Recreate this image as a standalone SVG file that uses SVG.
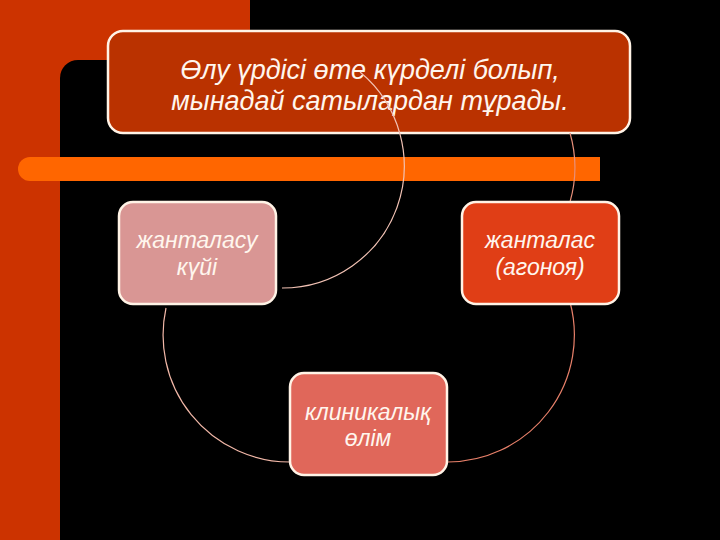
<svg xmlns="http://www.w3.org/2000/svg" width="720" height="540" viewBox="0 0 720 540">
<style>
.box{stroke:#FFF3E6;stroke-width:2.5}
.t{font-family:"Liberation Sans",Arial,sans-serif;font-style:italic;fill:#FFF6EE;text-anchor:middle}
.arc{fill:none;stroke-width:1.2}
</style>
<g id="background">
<rect x="0" y="0" width="720" height="540" fill="#CC3300"/>
<rect x="250" y="0" width="470" height="62" fill="#000000"/>
<rect x="60" y="60" width="700" height="520" rx="18" fill="#000000"/>
<path d="M30,157 H600 V181 H30 A12,12 0 0 1 30,157 Z" fill="#FF6600"/>
</g>
<g id="title">
<rect class="box" x="108" y="31" width="522" height="102" rx="15" fill="#BA3200"/>
<text class="t" x="370" y="79" font-size="27">Өлу үрдісі өте күрделі болып,</text>
<text class="t" x="370" y="110" font-size="27">мынадай сатылардан тұрады.</text>
</g>
<g id="connectors">
<path class="arc" stroke="#F2C2B4" d="M360,72 A122,122 0 0 1 282,288"/>
<path class="arc" stroke="#E8907A" d="M570,133 A125,125 0 0 1 570,202"/>
<path class="arc" stroke="#E8806A" d="M570,302 A127,127 0 0 1 448,462"/>
<path class="arc" stroke="#F2B8A8" d="M290,462 A127,127 0 0 1 166,308"/>
</g>
<g id="node-left">
<rect class="box" x="119" y="202" width="157" height="102" rx="14" fill="#D99694"/>
<text class="t" x="197" y="248" font-size="23">жанталасу</text>
<text class="t" x="197" y="275" font-size="23">күйі</text>
</g>
<g id="node-right">
<rect class="box" x="462" y="202" width="157" height="102" rx="14" fill="#E03E16"/>
<text class="t" x="540" y="248" font-size="23">жанталас</text>
<text class="t" x="540" y="275" font-size="23">(агоноя)</text>
</g>
<g id="node-bottom">
<rect class="box" x="290" y="373" width="157" height="102" rx="14" fill="#E0675A"/>
<text class="t" x="368" y="420" font-size="23">клиникалық</text>
<text class="t" x="368" y="446" font-size="23">өлім</text>
</g>
</svg>
